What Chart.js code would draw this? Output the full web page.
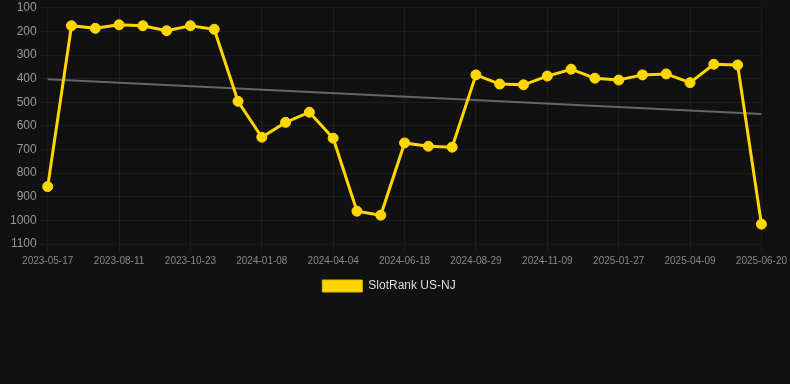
<!DOCTYPE html>
<html>
<head>
<meta charset="utf-8">
<script src="https://cdn.jsdelivr.net/npm/chart.js@4"></script>
<style>
    html, body {
        margin: 0;
        padding: 0;
        background: #111111;
    }
    .contenedor {
        position: relative;
        width: 790px;
        height: 302px;
    }
</style>
</head>
<body>
<div class="contenedor">
    <canvas id="grafico"></canvas>
</div>
<script>
const fechas = [
    "2023-05-17", "2023-06-15", "2023-07-14", "2023-08-11", "2023-09-04", "2023-09-28",
    "2023-10-23", "2023-11-18", "2023-12-13", "2024-01-08", "2024-02-06", "2024-03-06",
    "2024-04-04", "2024-04-29", "2024-05-24", "2024-06-18", "2024-07-12", "2024-08-05",
    "2024-08-29", "2024-09-22", "2024-10-16", "2024-11-09", "2024-12-05", "2025-01-01",
    "2025-01-27", "2025-02-20", "2025-03-16", "2025-04-09", "2025-05-03", "2025-05-27",
    "2025-06-20"
];

const rangos = [
    857, 176, 187, 172, 176, 197, 176, 191, 496, 648, 585, 542,
    652, 961, 978, 672, 686, 690, 384, 423, 426, 389, 360, 398,
    406, 384, 380, 417, 339, 342, 1016
];

// tendencia: solo los extremos, el resto se une con spanGaps
const tendencia = [402, ...Array(29).fill(null), 550];

const yTicks = { min: 100, max: 1100, paso: 100 };

document.addEventListener("DOMContentLoaded", () => {
    const ctx = document.getElementById("grafico").getContext("2d");
    new Chart(ctx, {
        type: "line",
        data: {
            labels: fechas,
            datasets: [{
                label: "SlotRank US-NJ",
                data: rangos,
                borderColor: "#FFD700",
                backgroundColor: "#FFD700",
                borderWidth: 3,
                pointRadius: 5,
                pointBorderWidth: 1,
                pointHoverRadius: 6,
                tension: 0
            }, {
                label: "Tendencia",
                data: tendencia,
                borderColor: "#666666",
                borderWidth: 2,
                pointRadius: 0,
                spanGaps: true,
                fill: false
            }]
        },
        options: {
            responsive: true,
            maintainAspectRatio: false,
            animation: false,
            layout: {
                padding: { top: 0, left: 7, right: 19 }
            },
            plugins: {
                legend: {
                    position: "bottom",
                    labels: {
                        color: "#dddddd",
                        font: { family: "Arial, Liberation Sans", size: 12 },
                        boxWidth: 40,
                        boxHeight: 12,
                        generateLabels: chart => {
                            const ds = chart.data.datasets[0];
                            return [{
                                text: ds.label,
                                fillStyle: ds.backgroundColor,
                                strokeStyle: "#E6B800",
                                lineWidth: 1,
                                fontColor: "#dddddd",
                                datasetIndex: 0,
                                hidden: false
                            }];
                        }
                    }
                },
                tooltip: { enabled: false }
            },
            scales: {
                x: {
                    grid: { color: "rgba(255,255,255,0.05)" },
                    ticks: {
                        color: "#888888",
                        font: { family: "Arial, Liberation Sans", size: 10 },
                        maxRotation: 0,
                        autoSkip: true
                    }
                },
                y: {
                    reverse: true,
                    min: yTicks.min,
                    max: yTicks.max,
                    grid: { color: "rgba(255,255,255,0.05)" },
                    ticks: {
                        stepSize: yTicks.paso,
                        color: "#999999",
                        font: { family: "Arial, Liberation Sans", size: 12, lineHeight: 0.8 },
                        callback: valor => String(valor)
                    }
                }
            }
        }
    });
});
</script>
</body>
</html>
